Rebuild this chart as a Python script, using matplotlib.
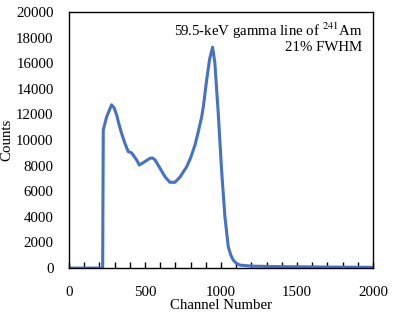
import matplotlib
matplotlib.use("Agg")
import matplotlib.pyplot as plt
from matplotlib.ticker import MultipleLocator

# spectrum
channel = [0, 100, 200, 222, 226, 248, 265, 281, 298, 314, 330, 347, 368, 390, 412,
           430, 445, 463, 489, 510, 533, 550, 566, 599, 632, 664, 697, 730, 774, 800,
           829, 850, 873, 884, 906, 925, 945, 960, 982, 1004, 1026, 1048, 1065, 1081,
           1100, 1125, 1200, 1400, 1600, 1800, 2000]
counts = [0, 0, 0, 0, 10800, 11800, 12300, 12750, 12500, 11950, 11200, 10500, 9750,
          9100, 9000, 8700, 8450, 8050, 8230, 8400, 8570, 8600, 8450, 7800, 7130,
          6700, 6700, 7100, 7900, 8600, 9600, 10600, 11800, 12600, 14700, 16300, 17250,
          16000, 12100, 7650, 4000, 1660, 1000, 620, 380, 230, 150, 110, 90, 70, 60]

plt.rcParams['font.family'] = ['Liberation Serif', 'DejaVu Serif']
plt.rcParams['mathtext.fontset'] = 'stix'
fs = 10.7

fig = plt.figure(figsize=(3.96, 3.15), dpi=100)
ax = fig.add_axes([0.174, 0.149, 0.768, 0.813])
ax.plot(channel, counts, color='#4472C4', linewidth=2.2)

ax.set_xlim(0, 2000)
ax.set_ylim(0, 20000)
ax.xaxis.set_major_locator(MultipleLocator(500))
ax.xaxis.set_minor_locator(MultipleLocator(100))
ax.yaxis.set_major_locator(MultipleLocator(2000))
ax.tick_params(axis='x', which='both', direction='in', length=4, width=1, pad=13, labelsize=fs)
ax.tick_params(axis='y', which='both', length=0, pad=11, labelsize=fs)
for s in ax.spines.values():
    s.set_linewidth(1)

ax.set_xlabel("Channel Number", fontsize=fs, labelpad=0)
ax.set_ylabel("Counts", fontsize=fs, labelpad=2)

ax.text(0.965, 0.965, r"59.5-keV gamma line of $^{241}$Am", transform=ax.transAxes,
        ha='right', va='top', fontsize=fs)
ax.text(0.965, 0.888, "21% FWHM", transform=ax.transAxes,
        ha='right', va='top', fontsize=fs)

fig.savefig("out.png", dpi=100)
